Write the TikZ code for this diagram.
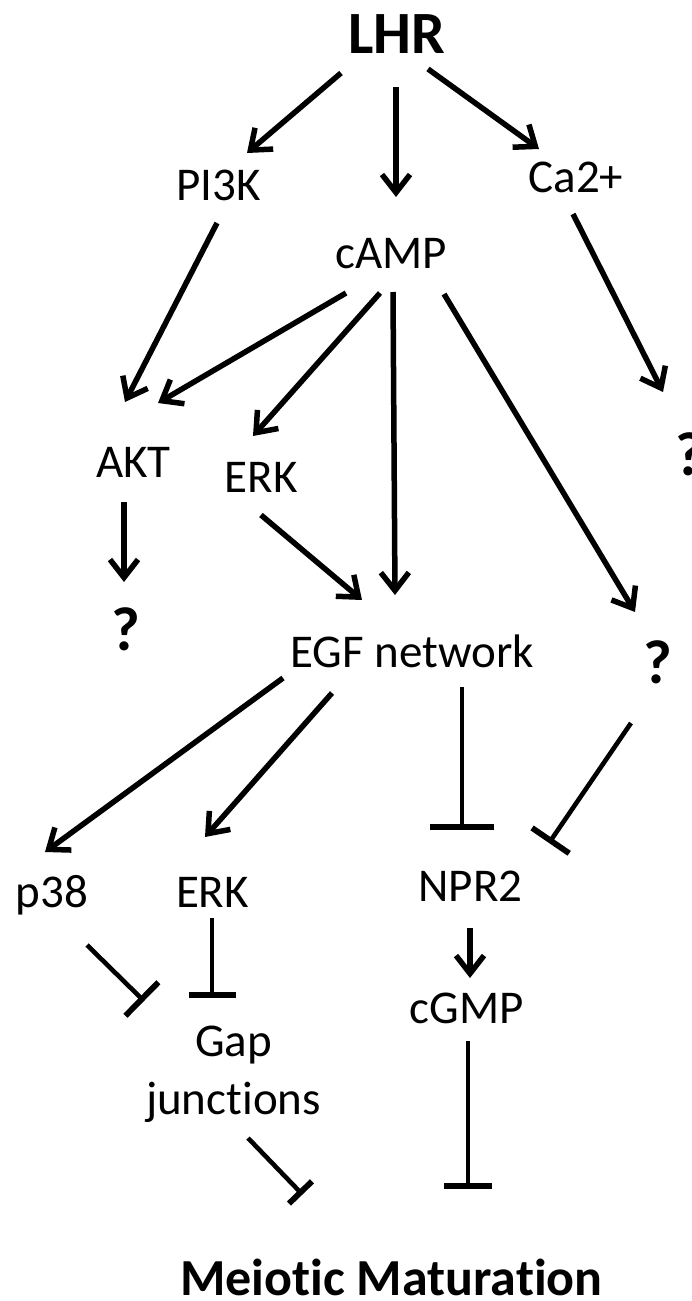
\documentclass[tikz,border=0pt]{standalone}
\usepackage{fontspec}
\setmainfont{Carlito}[Ligatures=NoCommon,RawFeature=-liga]
\usetikzlibrary{arrows.meta}
\begin{document}
\begin{tikzpicture}[x=1pt,y=-1pt,
  lbl/.style={inner sep=0pt,anchor=base,font=\fontsize{47}{58}\selectfont},
  big/.style={inner sep=0pt,anchor=base,font=\fontsize{60}{70}\selectfont\bfseries},
  qm/.style={inner sep=0pt,anchor=base,font=\fontsize{62}{70}\selectfont\bfseries},
  act/.style={line width=5.5pt,-{Straight Barb[length=18pt,width=28pt,line width=5.5pt]}},
  inh/.style={line width=4.6pt},
  ibar/.style={-{Bar[width=#1,line width=5.8pt]}}
]
\useasboundingbox (0,0) rectangle (691,1301);
% nodes
\node[big] (LHR) at (396.5,53) {LHR};
\node[lbl] (PI3K) at (218.5,200) {PI3K};
\node[lbl] (cAMP) at (391,268) {cAMP};
\node[lbl] (Ca) at (576,192) {Ca2+};
\node[lbl] (AKT) at (133.5,477) {AKT};
\node[lbl] (ERKa) at (261,492) {ERK};
\node[qm] (qa) at (125.5,650) {?};
\node[qm] (qb) at (690,475) {?};
\node[lbl] (EGF) at (412,667) {EGF network};
\node[qm] (qc) at (657.5,683) {?};
\node[lbl] (p38) at (52,907) {p38};
\node[lbl] (ERKb) at (212.5,907) {ERK};
\node[lbl] (NPR2) at (470.5,901) {NPR2};
\node[lbl] (cGMP) at (466.5,1023) {cGMP};
\node[inner sep=0pt,align=center,font=\fontsize{47}{58}\selectfont] (Gap) at (233.5,1074) {Gap\\junctions};
\node[inner sep=0pt,anchor=base,text depth=0pt,font=\fontsize{52}{60}\selectfont\bfseries] (MM) at (391.5,1295) {Meiotic Maturation};
% activations
\draw[act] ([shift={(-55.5,20)}]LHR.base) -- ([shift={(28.5,-47)}]PI3K.base);
\draw[act] ([shift={(-0.5,34)}]LHR.base) -- ([shift={(5,-71)}]cAMP.base);
\draw[act] ([shift={(31.5,16)}]LHR.base) -- ([shift={(-37,-43)}]Ca.base);
\draw[act] ([shift={(-1.5,23)}]PI3K.base) -- ([shift={(-8.5,-75)}]AKT.base);
\draw[act] ([shift={(-45,25)}]cAMP.base) -- ([shift={(24.5,-74)}]AKT.base);
\draw[act] ([shift={(-11,25)}]cAMP.base) -- ([shift={(-8,-56)}]ERKa.base);
\draw[act] ([shift={(2,24)}]cAMP.base) -- ([shift={(-17,-72)}]EGF.base);
\draw[act] ([shift={(53,26)}]cAMP.base) -- ([shift={(-22.5,-71)}]qc.base);
\draw[act] ([shift={(-3,22)}]Ca.base) -- ([shift={(-27,-83)}]qb.base);
\draw[act] ([shift={(-9.5,25)}]AKT.base) -- ([shift={(-1.5,-68)}]qa.base);
\draw[act] ([shift={(0,23)}]ERKa.base) -- ([shift={(-50,-67)}]EGF.base);
\draw[act] ([shift={(-129,11)}]EGF.base) -- ([shift={(-7,-55)}]p38.base);
\draw[act] ([shift={(-80,26)}]EGF.base) -- ([shift={(-7.5,-70)}]ERKb.base);
\draw[act] ([shift={(-0.5,27)}]NPR2.base) -- ([shift={(3.5,-45)}]cGMP.base);
% inhibitions
\draw[inh,ibar=64pt] ([shift={(50,20)}]EGF.base) -- ([shift={(-8.5,-71)}]NPR2.base);
\draw[inh,ibar=45pt] ([shift={(-26.5,40)}]qc.base) -- ([shift={(78.5,-58)}]NPR2.base);
\draw[inh,ibar=47pt] ([shift={(35,38)}]p38.base) -- ([shift={(-89.5,-73)}]Gap.center);
\draw[inh,ibar=47pt] ([shift={(-0.5,11)}]ERKb.base) -- ([shift={(-21.5,-76)}]Gap.center);
\draw[inh,ibar=32pt] ([shift={(14.5,64)}]Gap.center) -- ([shift={(-89,-100.5)}]MM.base);
\draw[inh,ibar=48pt] ([shift={(1.5,18)}]cGMP.base) -- ([shift={(76.5,-106)}]MM.base);
\end{tikzpicture}
\end{document}
